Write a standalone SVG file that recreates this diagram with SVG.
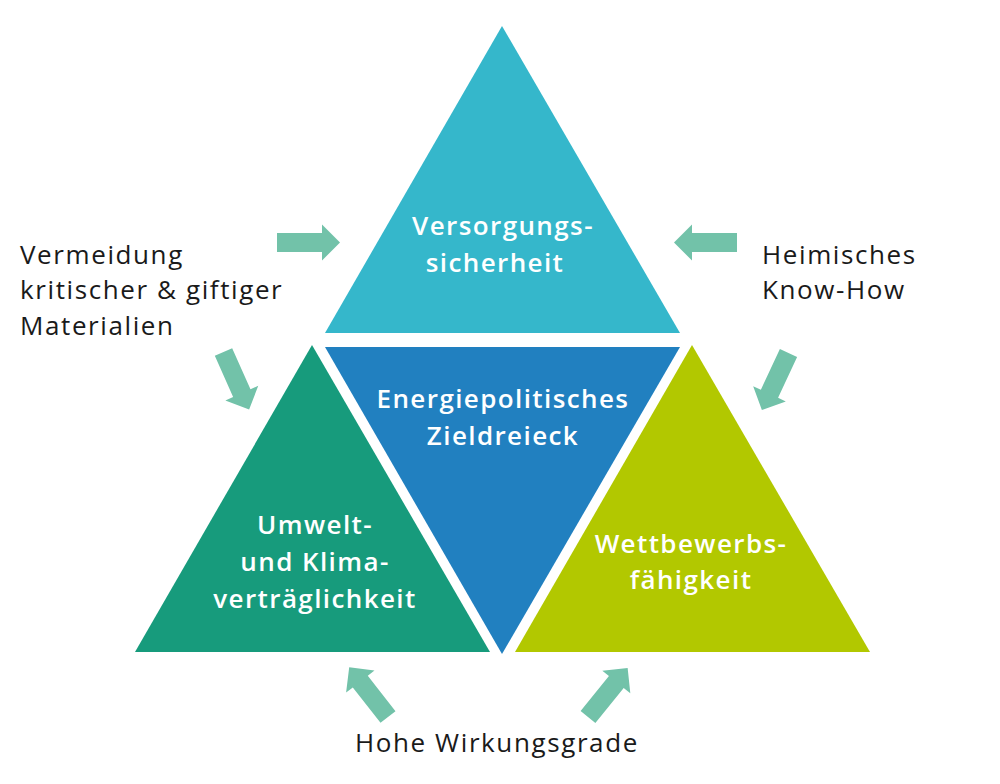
<svg xmlns="http://www.w3.org/2000/svg" width="1000" height="784" viewBox="0 0 1000 784">
<defs>
<style>
.lbl{font-family:"Open Sans","Noto Sans","Liberation Sans",sans-serif;font-size:26px;letter-spacing:1.6px;fill:#1a1a1a;}
.in{font-family:"Open Sans","Noto Sans","Liberation Sans",sans-serif;font-size:26px;font-weight:600;letter-spacing:1.4px;fill:#ffffff;text-anchor:middle;}
.arr{fill:#72c2a9;}
</style>
<path id="ar" d="M0,-9.5 L45,-9.5 L45,-18 L63,0 L45,18 L45,9.5 L0,9.5 Z"/>
</defs>
<rect width="1000" height="784" fill="#ffffff"/>
<g id="top">
<polygon points="502,26 325,333 680,333" fill="#35b7cb"/>
<text class="in" x="503" y="235">Versorgungs-</text>
<text class="in" x="495" y="272">sicherheit</text>
</g>
<g id="center">
<polygon points="325,347 680,347 502,654" fill="#2180c0"/>
<text class="in" x="503" y="408">Energiepolitisches</text>
<text class="in" x="503" y="445">Zieldreieck</text>
</g>
<g id="left">
<polygon points="312,345 135,652 490,652" fill="#179b7c"/>
<text class="in" x="315" y="534">Umwelt-</text>
<text class="in" x="315" y="571">und Klima-</text>
<text class="in" x="315" y="608">verträglichkeit</text>
</g>
<g id="right">
<polygon points="692,345 515,652 870,652" fill="#b2c800"/>
<text class="in" x="691" y="553">Wettbewerbs-</text>
<text class="in" x="691" y="589">fähigkeit</text>
</g>
<g id="connectors" class="arr">
<use href="#ar" transform="translate(277,242.5)"/>
<use href="#ar" transform="translate(737,242.5) rotate(180)"/>
<use href="#ar" transform="translate(223.5,352) rotate(66)"/>
<use href="#ar" transform="translate(788.5,353) rotate(115)"/>
<use href="#ar" transform="translate(388,717) rotate(232)"/>
<use href="#ar" transform="translate(588,717) rotate(-51)"/>
</g>
<g id="notes">
<text class="lbl" x="20" y="264">Vermeidung</text>
<text class="lbl" x="20" y="299">kritischer &amp; giftiger</text>
<text class="lbl" x="20" y="335">Materialien</text>
<text class="lbl" x="762" y="264">Heimisches</text>
<text class="lbl" x="762" y="299">Know-How</text>
<text class="lbl" x="355" y="752">Hohe Wirkungsgrade</text>
</g>
</svg>
